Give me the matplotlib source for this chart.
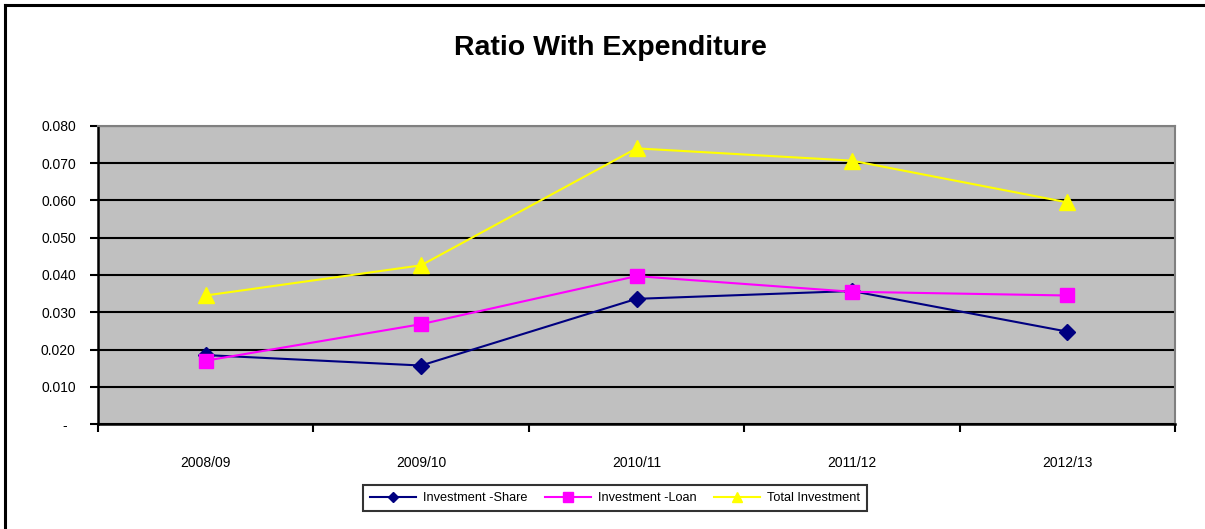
import matplotlib
matplotlib.use("Agg")
import matplotlib.pyplot as plt
from matplotlib.lines import Line2D

plt.rcParams['font.family'] = ['Liberation Sans', 'DejaVu Sans']

categories = ["2008/09", "2009/10", "2010/11", "2011/12", "2012/13"]
share = [0.0185, 0.0157, 0.0336, 0.0357, 0.0248]
loan = [0.0170, 0.0268, 0.0397, 0.0355, 0.0345]
total = [0.0345, 0.0426, 0.0740, 0.0707, 0.0595]
yticks = [0.0, 0.01, 0.02, 0.03, 0.04, 0.05, 0.06, 0.07, 0.08]
ytick_labels = ["-  ", "0.010", "0.020", "0.030", "0.040", "0.050", "0.060", "0.070", "0.080"]
title = "Ratio With Expenditure"

W, H = 1205, 529
fig = plt.figure(figsize=(W / 100, H / 100), dpi=100)
fig.patch.set_facecolor("white")

# outer chart frame (top and left visible)
fig.add_artist(Line2D([5 / W, 1.01], [1 - 5 / H, 1 - 5 / H], color="black", lw=2.2, transform=fig.transFigure))
fig.add_artist(Line2D([5 / W, 5 / W], [1 - 5 / H, -0.01], color="black", lw=2.2, transform=fig.transFigure))

left, right, top, bottom = 98, 1175, 126, 424
ax = fig.add_axes([left / W, 1 - bottom / H, (right - left) / W, (bottom - top) / H])
ax.set_facecolor("#c0c0c0")

x = list(range(len(categories)))
ax.set_xlim(-0.5, len(categories) - 0.5)
ax.set_ylim(0, 0.08)

ax.set_yticks(yticks)
ax.set_yticklabels(ytick_labels)
ax.yaxis.grid(True, color="black", lw=1.5)
ax.set_axisbelow(True)

ax.set_xticks([i - 0.5 for i in range(len(categories) + 1)])
ax.set_xticklabels([])
ax.set_xticks(x, minor=True)
ax.set_xticklabels(categories, minor=True)
ax.tick_params(axis="x", which="minor", length=0, pad=23, labelsize=10)
ax.tick_params(axis="x", which="major", length=6, width=1.5, direction="out")
ax.tick_params(axis="y", length=6, width=1.5, direction="out", pad=10, labelsize=10)

for s in ["top", "right"]:
    ax.spines[s].set_color("#808080")
    ax.spines[s].set_linewidth(1.5)
for s in ["left", "bottom"]:
    ax.spines[s].set_color("black")
    ax.spines[s].set_linewidth(1.8)

ax.plot(x, share, color="#000080", lw=1.5, marker="D", markersize=8, label="Investment -Share", zorder=3)
ax.plot(x, loan, color="#ff00ff", lw=1.5, marker="s", markersize=10.5, label="Investment -Loan", zorder=3)
ax.plot(x, total, color="#ffff00", lw=1.5, marker="^", markersize=11, label="Total Investment", zorder=3)

fig.text(610 / W, 1 - 48 / H, title, ha="center", va="center", fontsize=20.5, fontweight="bold")

leg = fig.legend(loc="center", bbox_to_anchor=(615 / W, 1 - 498 / H), ncol=3, frameon=True,
                 fancybox=False, edgecolor="black", fontsize=9.2, handlelength=3.6,
                 columnspacing=1.4, handletextpad=0.5, borderpad=0.55, markerscale=0.65)
leg.get_frame().set_linewidth(1.5)

fig.savefig("out.png", dpi=100, facecolor="white")
